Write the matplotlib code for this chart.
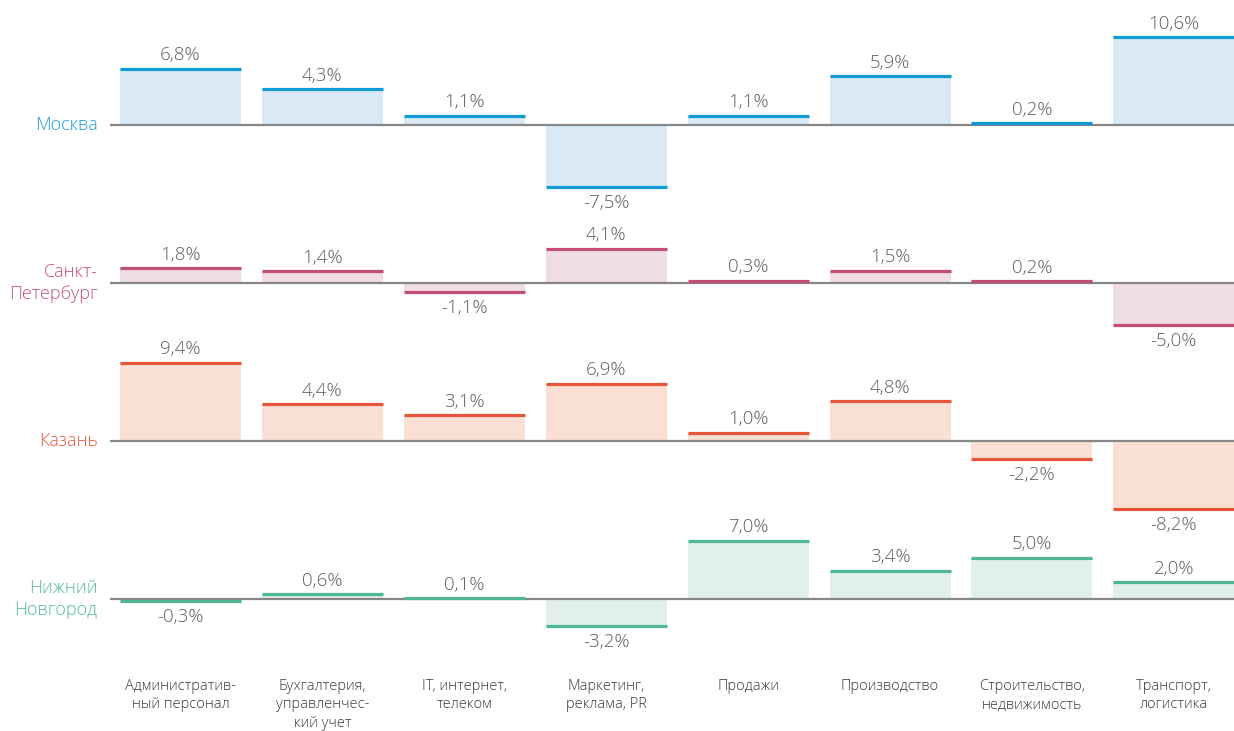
import matplotlib
matplotlib.use("Agg")
import matplotlib.pyplot as plt

categories = ["Административ-\nный персонал", "Бухгалтерия,\nуправленчес-\nкий учет",
              "IT, интернет,\nтелеком", "Маркетинг,\nреклама, PR", "Продажи",
              "Производство", "Строительство,\nнедвижимость", "Транспорт,\nлогистика"]
cities = ["Москва", "Санкт-\nПетербург", "Казань", "Нижний\nНовгород"]
moscow = [6.8, 4.3, 1.1, -7.5, 1.1, 5.9, 0.2, 10.6]
spb = [1.8, 1.4, -1.1, 4.1, 0.3, 1.5, 0.2, -5.0]
kazan = [9.4, 4.4, 3.1, 6.9, 1.0, 4.8, -2.2, -8.2]
nn = [-0.3, 0.6, 0.1, -3.2, 7.0, 3.4, 5.0, 2.0]
series = [moscow, spb, kazan, nn]
line_colors = ["#109bd7", "#c24d78", "#e8553a", "#4db798"]
fill_colors = ["#d9e9f5", "#f0dde3", "#fae0d4", "#e1f0ea"]
label_colors = ["#1e9ed9", "#c4507c", "#e85a3c", "#55b99c"]

plt.rcParams['font.family'] = ['Open Sans', 'DejaVu Sans']

W, H = 1234, 731
fig = plt.figure(figsize=(W / 100, H / 100), dpi=100)
slot = 141.9
left_px = 180.5 - slot / 2
ax = fig.add_axes([left_px / W, 0, 1 - left_px / W, 1])
ppu = 8.3  # pixels per percent
row_gap = 158 / ppu
top_units = 125 / ppu
ax.set_xlim(-0.5, (W - 180.5) / slot)
ax.set_ylim(top_units - H / ppu, top_units)
ax.axis("off")

bw = 121 / slot
for r, vals in enumerate(series):
    base = -r * row_gap
    xs = list(range(len(vals)))
    ax.bar(xs, vals, bottom=base, width=bw, color=fill_colors[r], zorder=1)
    ax.axhline(base, xmin=0, xmax=1, color="#878787", lw=1.6, zorder=2)
    for x, v in zip(xs, vals):
        ax.plot([x - bw / 2, x + bw / 2], [base + v, base + v], color=line_colors[r],
                lw=2.3, solid_capstyle="butt", zorder=3)
        txt = f"{v:.1f}".replace(".", ",") + "%"
        y = base + v + (13.5 / ppu if v >= 0 else -16 / ppu)
        ax.text(x, y, txt, ha="center", va="center", fontsize=13.5, color="#5e5e5e",
                fontweight="light", zorder=4)
    ax.text(-0.5 - 12 / slot, base, cities[r], ha="right", va="center", fontsize=13,
            color=label_colors[r], linespacing=1.25, fontweight="light", clip_on=False)

for i, c in enumerate(categories):
    ax.text(i, top_units - 678.5 / ppu, c, ha="center", va="top", fontsize=10.5,
            color="#3a3a3a", linespacing=1.36, fontweight="light")

fig.savefig("out.png", dpi=100)
